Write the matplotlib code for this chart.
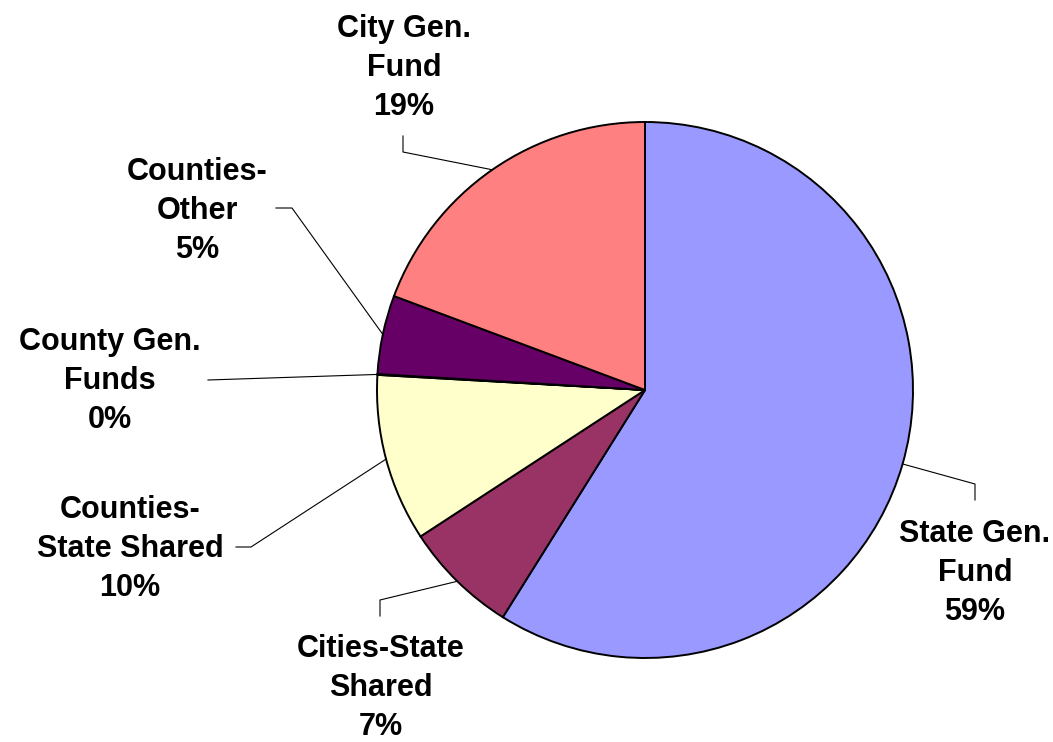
import numpy as np
import matplotlib
matplotlib.use("Agg")
import matplotlib.pyplot as plt

W, H = 1053, 742

# clockwise from 12 o'clock
categories = ["State Gen.\nFund", "Cities-State\nShared", "Counties-\nState Shared",
              "County Gen.\nFunds", "Counties-\nOther", "City Gen.\nFund"]
shares = [58.9, 6.9, 10.1, 0.05, 4.75, 19.3]
pct_labels = ["59%", "7%", "10%", "0%", "5%", "19%"]
colors = ["#9999FF", "#993366", "#FFFFCC", "#CCFFFF", "#660066", "#FF8080"]

# label layout in pixel coords (y down): text centre, leader elbow, leader end
label_pos = [(975, 573), (381, 688), (130, 549), (110, 381), (197, 211), (404, 68)]
elbows = [(975, 484), (380, 600), (251, 547), None, (292, 208), (403, 152)]
ends = [(975, 500), (380, 616), (236, 547), (208, 380), (276, 208), (403, 136)]

plt.rcParams["font.family"] = ["Liberation Sans", "DejaVu Sans"]
fig = plt.figure(figsize=(W / 100, H / 100), dpi=100)
ax = fig.add_axes([0, 0, 1, 1])

cx, cy, r = 645, H - 390, 268
wedges, _ = ax.pie(shares, colors=colors, startangle=90, counterclock=False,
                   center=(cx, cy), radius=r, frame=True,
                   wedgeprops=dict(edgecolor="black", linewidth=1.4))
ax.set_xlim(0, W)
ax.set_ylim(0, H)
ax.set_aspect("equal")
ax.axis("off")

for w, name, pct, (tx, ty), elb, end in zip(wedges, categories, pct_labels, label_pos, elbows, ends):
    mid = np.deg2rad((w.theta1 + w.theta2) / 2)
    px, py = cx + r * np.cos(mid), cy + r * np.sin(mid)
    pts = [(px, py)]
    if elb is not None:
        pts.append((elb[0], H - elb[1]))
    pts.append((end[0], H - end[1]))
    xs, ys = zip(*pts)
    ax.plot(xs, ys, color="black", linewidth=0.8)
    ax.text(tx, H - ty, f"{name}\n{pct}", ha="center", va="center", fontsize=22,
            fontweight="bold", linespacing=1.37)

fig.savefig("out.png", dpi=100)
